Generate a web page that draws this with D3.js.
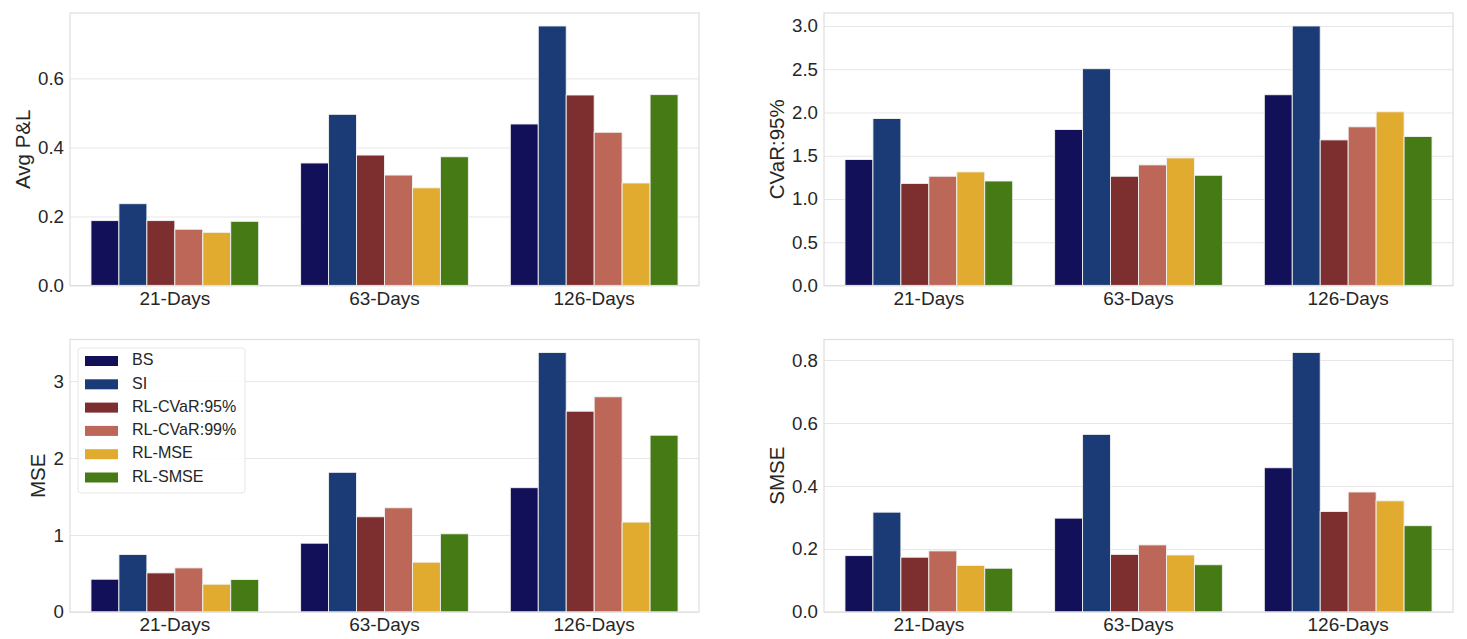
<!DOCTYPE html>
<html>
<head>
    <meta charset="utf-8">
    <title>hedging metrics</title>
    <script src="https://d3js.org/d3.v7.min.js"></script>
    <style>
        body { margin: 0; background: #fff; }
        svg text { font-family: "Liberation Sans", Arial, sans-serif; fill: #262626; }
        .grid line { stroke: #e6e6e6; stroke-width: 1; }
        .spine { fill: none; stroke: #dedede; stroke-width: 1.2; }
    </style>
</head>
<body>
<div id="chart"></div>
<script>
    // categories and series
    var categories = ["21-Days", "63-Days", "126-Days"];
    var series = ["BS", "SI", "RL-CVaR:95%", "RL-CVaR:99%", "RL-MSE", "RL-SMSE"];
    var colors = ["#13105a", "#1a3b75", "#7d2e2f", "#bc6757", "#e1ab30", "#467a14"];

    // values per series (rows follow the order of `series`)
    var avgPnl = [
        [0.188, 0.355, 0.468],
        [0.237, 0.496, 0.752],
        [0.188, 0.378, 0.552],
        [0.163, 0.320, 0.444],
        [0.154, 0.283, 0.297],
        [0.186, 0.373, 0.553]
    ];
    var cvar95 = [
        [1.456, 1.803, 2.205],
        [1.930, 2.506, 3.000],
        [1.180, 1.263, 1.683],
        [1.263, 1.394, 1.834],
        [1.313, 1.475, 2.008],
        [1.208, 1.274, 1.722]
    ];
    var mse = [
        [0.426, 0.894, 1.615],
        [0.747, 1.815, 3.372],
        [0.508, 1.237, 2.609],
        [0.573, 1.354, 2.796],
        [0.361, 0.647, 1.168],
        [0.422, 1.016, 2.297]
    ];
    var smse = [
        [0.179, 0.298, 0.458],
        [0.317, 0.564, 0.824],
        [0.174, 0.183, 0.319],
        [0.194, 0.213, 0.381],
        [0.148, 0.181, 0.353],
        [0.139, 0.150, 0.274]
    ];

    // tick labels
    var pnlTicks = [0, 0.2, 0.4, 0.6];
    var cvarTicks = [0, 0.5, 1.0, 1.5, 2.0, 2.5, 3.0];
    var mseTicks = [0, 1, 2, 3];
    var smseTicks = [0, 0.2, 0.4, 0.6, 0.8];

    var svg = d3.select("#chart")
                .append("svg")
                .attr("width", 1467)
                .attr("height", 639);

    var panels = [
        {data: avgPnl, ticks: pnlTicks, fmt: ".1f", label: "Avg P&L", x: 70, y: 13, labelX: 25, legend: false},
        {data: cvar95, ticks: cvarTicks, fmt: ".1f", label: "CVaR:95%", x: 824, y: 13, labelX: 779, legend: false},
        {data: mse, ticks: mseTicks, fmt: "d", label: "MSE", x: 70, y: 339.5, labelX: 40, legend: true},
        {data: smse, ticks: smseTicks, fmt: ".1f", label: "SMSE", x: 824, y: 339.5, labelX: 779, legend: false}
    ];
    var w = 629, h = 272.5;

    panels.forEach(function(p) {
        var g = svg.append("g").attr("transform", "translate(" + p.x + "," + p.y + ")");

        var x0 = d3.scaleBand().domain(categories).range([0, w]).padding(0);
        var x1 = d3.scaleBand().domain(series)
                   .range([x0.bandwidth() * 0.1, x0.bandwidth() * 0.9]).padding(0);
        var ymax = d3.max(p.data, function(r) { return d3.max(r); }) * 1.05;
        var y = d3.scaleLinear().domain([0, ymax]).range([h, 0]);

        // grid
        g.append("g").attr("class", "grid")
         .call(d3.axisLeft(y).tickValues(p.ticks).tickSize(-w).tickFormat(""))
         .call(function(s) { s.select(".domain").remove(); });

        // bars
        var flat = [];
        p.data.forEach(function(row, si) {
            row.forEach(function(v, ci) {
                flat.push({s: series[si], c: categories[ci], v: v, col: colors[si]});
            });
        });
        g.selectAll("rect.bar")
         .data(flat)
         .enter()
         .append("rect")
         .attr("class", "bar")
         .attr("x", function(d) { return x0(d.c) + x1(d.s); })
         .attr("y", function(d) { return y(d.v); })
         .attr("width", x1.bandwidth())
         .attr("height", function(d) { return h - y(d.v); })
         .attr("fill", function(d) { return d.col; })
         .attr("stroke", "#f2f2f2")
         .attr("stroke-width", 0.9);

        // frame
        g.append("rect").attr("class", "spine")
         .attr("x", 0).attr("y", 0).attr("width", w).attr("height", h);

        // y axis
        var ya = g.append("g")
                  .call(d3.axisLeft(y).tickValues(p.ticks).tickSize(0).tickPadding(6)
                          .tickFormat(d3.format(p.fmt)));
        ya.select(".domain").remove();
        ya.selectAll("text").style("font-size", "18.7px").attr("fill", "#262626");

        // x axis
        var xa = g.append("g")
                  .attr("transform", "translate(0," + h + ")")
                  .call(d3.axisBottom(x0).tickSize(0).tickPadding(6));
        xa.select(".domain").remove();
        xa.selectAll("text").style("font-size", "19px").attr("fill", "#262626");

        // y label
        svg.append("text")
           .attr("transform", "translate(" + p.labelX + "," + (p.y + h / 2) + ") rotate(-90)")
           .attr("text-anchor", "middle")
           .attr("dominant-baseline", "middle")
           .style("font-size", "20.5px")
           .text(p.label);

        // legend
        if (p.legend) {
            var lg = g.append("g").attr("transform", "translate(8,8.5)");
            lg.append("rect")
              .attr("width", 167).attr("height", 145)
              .attr("rx", 3)
              .attr("fill", "#fff").attr("fill-opacity", 0.85)
              .attr("stroke", "#e6e6e6");
            var items = lg.selectAll("g.item")
                          .data(series)
                          .enter()
                          .append("g")
                          .attr("transform", function(d, i) { return "translate(0," + (13 + i * 23.3) + ")"; });
            items.append("rect")
                 .attr("x", 7).attr("y", -5)
                 .attr("width", 33).attr("height", 10)
                 .attr("fill", function(d, i) { return colors[i]; });
            items.append("text")
                 .attr("x", 54).attr("y", 0)
                 .attr("dominant-baseline", "middle")
                 .style("font-size", "16.1px")
                 .text(function(d) { return d; });
        }
    });
</script>
</body>
</html>
